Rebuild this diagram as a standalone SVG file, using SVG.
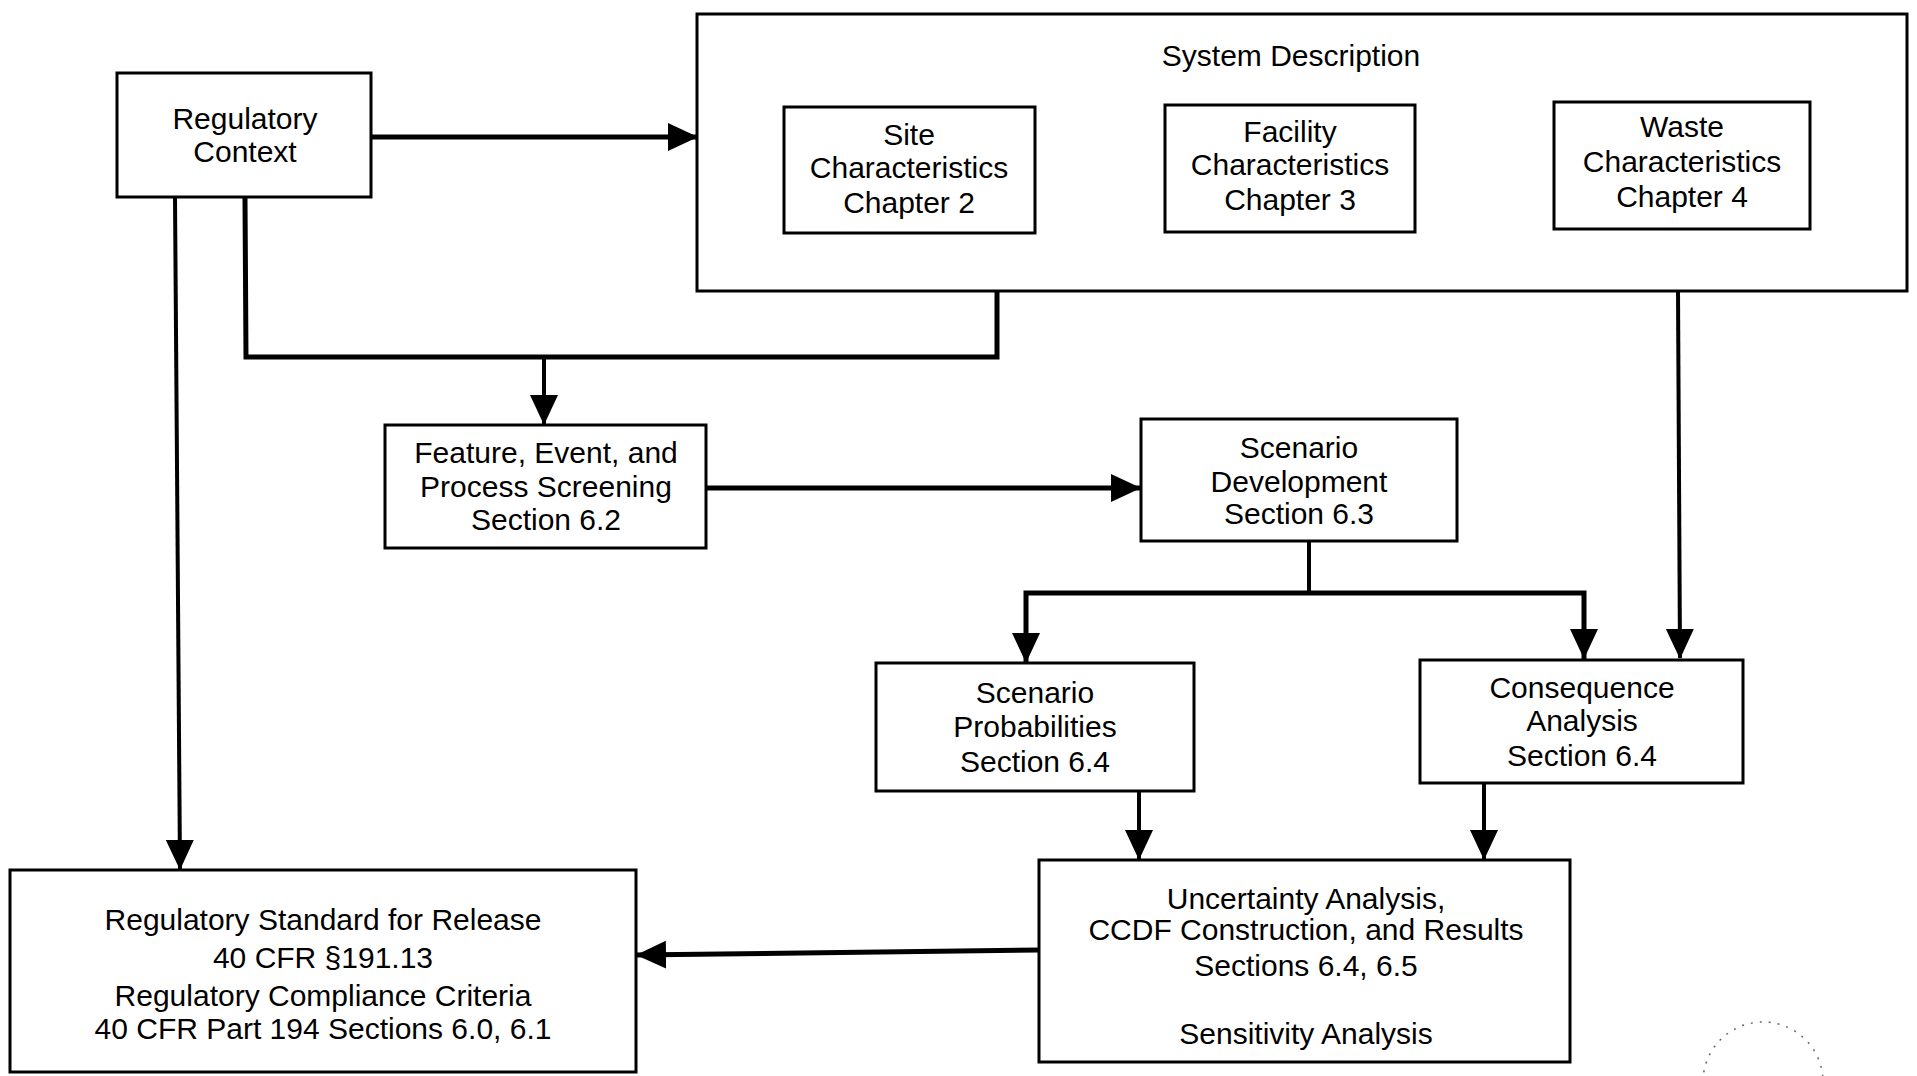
<svg xmlns="http://www.w3.org/2000/svg" width="1917" height="1076" viewBox="0 0 1917 1076">
<defs>
<style>
.box{fill:#fff;stroke:#000;stroke-width:3}
.t{font-family:"Liberation Sans",Arial,sans-serif;font-size:30px;fill:#000;text-anchor:middle}
.c{fill:none;stroke:#000;stroke-width:5;stroke-linecap:square}
.c4{fill:none;stroke:#000;stroke-width:4}
</style>
<marker id="ah" markerUnits="userSpaceOnUse" markerWidth="30" markerHeight="30" viewBox="0 0 30 30" refX="29" refY="15" orient="auto">
<path d="M0,1 L30,15 L0,29 Z" fill="#000"/>
</marker>
</defs>
<rect width="1917" height="1076" fill="#fff"/>

<g id="connectors">
<line class="c" x1="371" y1="137" x2="697" y2="137" marker-end="url(#ah)"/>
<line class="c4" x1="175" y1="197" x2="180" y2="869" marker-end="url(#ah)"/>
<polyline class="c" points="245,200 246,357 997,357 997,292"/>
<line class="c4" x1="544" y1="357" x2="544" y2="424" marker-end="url(#ah)"/>
<line class="c" x1="706" y1="488" x2="1140" y2="488" stroke-width="6" marker-end="url(#ah)"/>
<line class="c4" x1="1309" y1="541" x2="1309" y2="593"/>
<polyline class="c" points="1026,662 1026,593 1584,593 1584,658" marker-end="url(#ah)"/>
<line class="c4" x1="1026" y1="600" x2="1026" y2="662" marker-end="url(#ah)"/>
<line class="c4" x1="1678" y1="290" x2="1680" y2="658" marker-end="url(#ah)"/>
<line class="c4" x1="1139" y1="791" x2="1139" y2="859" marker-end="url(#ah)"/>
<line class="c4" x1="1484" y1="783" x2="1484" y2="859" marker-end="url(#ah)"/>
<line class="c" x1="1039" y1="950" x2="637" y2="955" marker-end="url(#ah)"/>
</g>

<g id="regulatory-context">
<rect class="box" x="117" y="73" width="254" height="124"/>
<text class="t" x="245" y="129">Regulatory</text>
<text class="t" x="245" y="162">Context</text>
</g>

<g id="system-description">
<rect class="box" x="697" y="14" width="1210" height="277"/>
<text class="t" x="1291" y="66">System Description</text>
</g>

<g id="site-characteristics">
<rect class="box" x="784" y="107" width="251" height="126"/>
<text class="t" x="909" y="145">Site</text>
<text class="t" x="909" y="178">Characteristics</text>
<text class="t" x="909" y="213">Chapter 2</text>
</g>

<g id="facility-characteristics">
<rect class="box" x="1165" y="105" width="250" height="127"/>
<text class="t" x="1290" y="142">Facility</text>
<text class="t" x="1290" y="175">Characteristics</text>
<text class="t" x="1290" y="210">Chapter 3</text>
</g>

<g id="waste-characteristics">
<rect class="box" x="1554" y="102" width="256" height="127"/>
<text class="t" x="1682" y="137">Waste</text>
<text class="t" x="1682" y="172">Characteristics</text>
<text class="t" x="1682" y="207">Chapter 4</text>
</g>

<g id="fep-screening">
<rect class="box" x="385" y="425" width="321" height="123"/>
<text class="t" x="546" y="463">Feature, Event, and</text>
<text class="t" x="546" y="497">Process Screening</text>
<text class="t" x="546" y="530">Section 6.2</text>
</g>

<g id="scenario-development">
<rect class="box" x="1141" y="419" width="316" height="122"/>
<text class="t" x="1299" y="458">Scenario</text>
<text class="t" x="1299" y="492">Development</text>
<text class="t" x="1299" y="524">Section 6.3</text>
</g>

<g id="scenario-probabilities">
<rect class="box" x="876" y="663" width="318" height="128"/>
<text class="t" x="1035" y="703">Scenario</text>
<text class="t" x="1035" y="737">Probabilities</text>
<text class="t" x="1035" y="772">Section 6.4</text>
</g>

<g id="consequence-analysis">
<rect class="box" x="1420" y="660" width="323" height="123"/>
<text class="t" x="1582" y="698">Consequence</text>
<text class="t" x="1582" y="731">Analysis</text>
<text class="t" x="1582" y="766">Section 6.4</text>
</g>

<g id="uncertainty-analysis">
<rect class="box" x="1039" y="860" width="531" height="202"/>
<text class="t" x="1306" y="909">Uncertainty Analysis,</text>
<text class="t" x="1306" y="940">CCDF Construction, and Results</text>
<text class="t" x="1306" y="976">Sections 6.4, 6.5</text>
<text class="t" x="1306" y="1044">Sensitivity Analysis</text>
</g>

<g id="regulatory-standard">
<rect class="box" x="10" y="870" width="626" height="202"/>
<text class="t" x="323" y="930">Regulatory Standard for Release</text>
<text class="t" x="323" y="968">40 CFR §191.13</text>
<text class="t" x="323" y="1006">Regulatory Compliance Criteria</text>
<text class="t" x="323" y="1039">40 CFR Part 194 Sections 6.0, 6.1</text>
</g>

<circle cx="1763" cy="1082" r="60" fill="none" stroke="#666" stroke-width="1.5" stroke-dasharray="2 7"/>
</svg>
